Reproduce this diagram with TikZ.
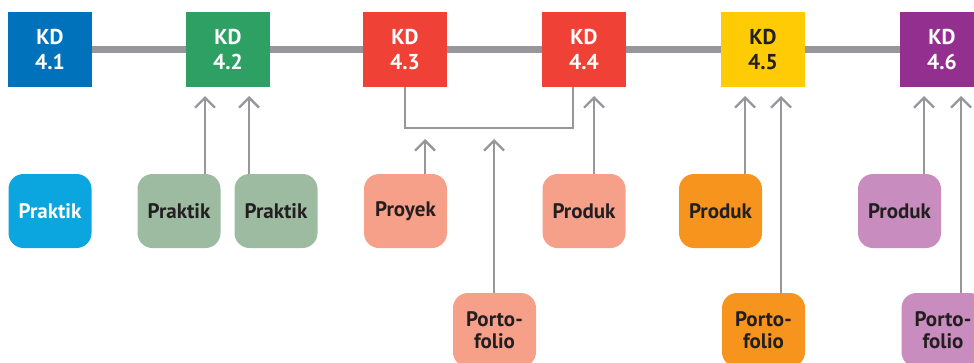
\documentclass[tikz,border=0pt]{standalone}
\usepackage{fontspec}
\setmainfont{PT Sans}
\usetikzlibrary{arrows.meta}
\definecolor{kdblue}{HTML}{0072BC}
\definecolor{kdgreen}{HTML}{2EA063}
\definecolor{kdred}{HTML}{EF4136}
\definecolor{kdyellow}{HTML}{FFCB05}
\definecolor{kdpurple}{HTML}{93308F}
\definecolor{tkblue}{HTML}{0BA5E0}
\definecolor{tkgreen}{HTML}{9DBBA0}
\definecolor{tksalmon}{HTML}{F6A08A}
\definecolor{tkorange}{HTML}{F7941D}
\definecolor{tkpink}{HTML}{C98CBF}
\definecolor{linegray}{HTML}{97979B}
\definecolor{txtdark}{HTML}{231F20}
\tikzset{
	kdbox/.style={minimum width=84pt, minimum height=75pt, inner sep=0pt, align=center, font=\fontsize{21.5}{25.5}\selectfont\bfseries},
	tkbox/.style={rounded corners=15pt, minimum width=83pt, minimum height=74pt, inner sep=0pt, align=center, font=\fontsize{21}{22.5}\selectfont\bfseries, text=txtdark},
	bar/.style={line width=7.5pt, color=linegray},
	link/.style={line width=2.3pt, color=linegray},
	arr/.style={link, -{Straight Barb[length=10pt,width=20pt,line width=2.3pt]}}
}

\begin{document}
\begin{tikzpicture}[x=1pt, y=-1pt]
		%%%%% START %%%%%
		\clip (0, 0) rectangle (974, 362);
		
		% kompetensi dasar
		\node[kdbox, fill=kdblue, text=white] (kd41) at (50, 49.5) {KD\\4.1};
		\node[kdbox, fill=kdgreen, text=white] (kd42) at (228, 49.5) {KD\\4.2};
		\node[kdbox, fill=kdred, text=white] (kd43) at (405, 49.5) {KD\\4.3};
		\node[kdbox, fill=kdred, text=white] (kd44) at (584, 49.5) {KD\\4.4};
		\node[kdbox, fill=kdyellow, text=txtdark] (kd45) at (763, 49.5) {KD\\4.5};
		\node[kdbox, fill=kdpurple, text=white] (kd46) at (942, 49.5) {KD\\4.6};
		
		\draw[bar] (kd41.east) -- (kd42.west);
		\draw[bar] (kd42.east) -- (kd43.west);
		\draw[bar] (kd43.east) -- (kd44.west);
		\draw[bar] (kd44.east) -- (kd45.west);
		\draw[bar] (kd45.east) -- (kd46.west);
		
		% teknik penilaian
		\node[tkbox, fill=tkblue, text=white] (prak1) at (50, 211) {Praktik};
		\node[tkbox, fill=tkgreen] (prak2) at (179, 211) {Praktik};
		\node[tkbox, fill=tkgreen] (prak3) at (276, 211) {Praktik};
		\node[tkbox, fill=tksalmon] (proy3) at (405.5, 211) {Proyek};
		\node[tkbox, fill=tksalmon] (prod4) at (584, 211) {Produk};
		\node[tkbox, fill=tkorange] (prod5) at (720.5, 211) {Produk};
		\node[tkbox, fill=tkpink] (prod6) at (899.5, 211) {Produk};
		\node[tkbox, fill=tksalmon] (port3) at (494.5, 330) {Porto-\\folio};
		\node[tkbox, fill=tkorange] (port5) at (763.5, 330) {Porto-\\folio};
		\node[tkbox, fill=tkpink] (port6) at (943, 330) {Porto-\\folio};
		
		% ujung panah
		\coordinate (t42a) at (205, 96);
		\coordinate (t42b) at (249, 96);
		\coordinate (t44) at (594, 96);
		\coordinate (t45a) at (745, 96);
		\coordinate (t45b) at (781, 96);
		\coordinate (t46a) at (924, 96);
		\coordinate (t46b) at (961, 96);
		\coordinate (kurung) at (0, 128);
		\coordinate (t43a) at (425, 139);
		\coordinate (t43b) at (494, 139);
		
		\draw[link] (kd43.south) -- (kd43.south |- kurung) -- ([xshift=-11pt]kd44.south |- kurung) -- ([xshift=-11pt]kd44.south);
		
		\draw[arr] (t42a |- prak2.north) -- (t42a);
		\draw[arr] (t42b |- prak3.north) -- (t42b);
		\draw[arr] (t43a |- proy3.north) -- (t43a);
		\draw[arr] (t43b |- port3.north) -- (t43b);
		\draw[arr] (t44 |- prod4.north) -- (t44);
		\draw[arr] (t45a |- prod5.north) -- (t45a);
		\draw[arr] (t45b |- port5.north) -- (t45b);
		\draw[arr] (t46a |- prod6.north) -- (t46a);
		\draw[arr] (t46b |- port6.north) -- (t46b);
		
		%%%%% END %%%%%
	\end{tikzpicture}
\end{document}
